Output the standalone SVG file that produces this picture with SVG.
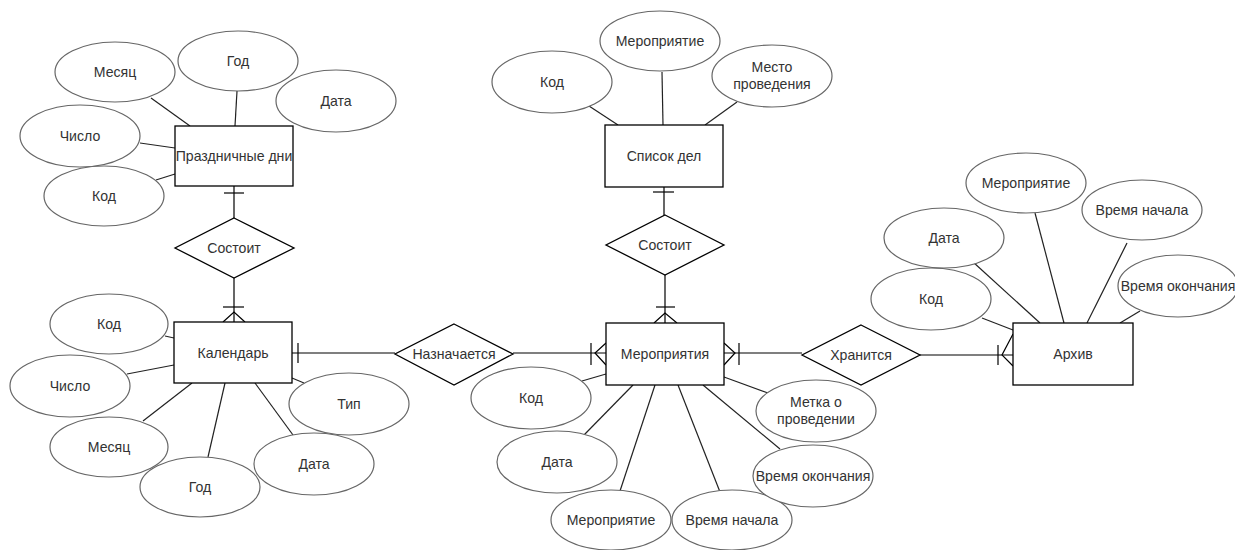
<svg xmlns="http://www.w3.org/2000/svg" width="1235" height="550" viewBox="0 0 1235 550">
<style>
.attr ellipse{fill:#fff;stroke:#666;stroke-width:1.2}
.ent rect{fill:#fff;stroke:#000;stroke-width:1.3}
.rel polygon{fill:#fff;stroke:#000;stroke-width:1.3}
text{font-family:"Liberation Sans",Arial,sans-serif;font-size:14.1px;fill:#333;text-anchor:middle;dominant-baseline:central}
.conn line,.conn polyline{stroke:#000;stroke-width:1.2;fill:none}
.links line{stroke:#222;stroke-width:1.2}
</style>
<rect width="1235" height="550" fill="#fff"/>

<g id="links" class="links">
<line x1="151" y1="98" x2="190" y2="126"/>
<line x1="237" y1="91" x2="235" y2="126"/>
<line x1="140" y1="143" x2="175" y2="148"/>
<line x1="156" y1="180" x2="175" y2="174"/>
<line x1="165" y1="336" x2="174" y2="338"/>
<line x1="127" y1="374" x2="174" y2="365"/>
<line x1="143" y1="421" x2="192" y2="383"/>
<line x1="208" y1="457" x2="225" y2="383"/>
<line x1="293" y1="435" x2="255" y2="383"/>
<line x1="292" y1="378" x2="304" y2="383"/>
<line x1="589" y1="106" x2="618" y2="125"/>
<line x1="662" y1="72" x2="663" y2="125"/>
<line x1="737" y1="102" x2="705" y2="125"/>
<line x1="582" y1="381" x2="606" y2="374"/>
<line x1="584" y1="435" x2="633" y2="385"/>
<line x1="620" y1="491" x2="655" y2="385"/>
<line x1="720" y1="492" x2="678" y2="385"/>
<line x1="780" y1="449" x2="703" y2="385"/>
<line x1="768" y1="393" x2="724" y2="377"/>
<line x1="982" y1="318" x2="1013" y2="330"/>
<line x1="973" y1="262" x2="1040" y2="323"/>
<line x1="1035" y1="213" x2="1064" y2="323"/>
<line x1="1127" y1="243" x2="1087" y2="323"/>
<line x1="1140" y1="311" x2="1120" y2="323"/>
</g>

<g id="connectors" class="conn">
<line x1="234" y1="186" x2="234" y2="218"/>
<line x1="224" y1="193" x2="244" y2="193"/>
<line x1="234" y1="278" x2="234" y2="322"/>
<line x1="223" y1="307" x2="244" y2="307"/>
<polyline points="223,322 234,312 245,322"/>
<line x1="292" y1="353" x2="395" y2="353"/>
<line x1="298" y1="343" x2="298" y2="363"/>
<line x1="513" y1="353" x2="606" y2="353"/>
<line x1="591" y1="343" x2="591" y2="365"/>
<polyline points="606,343 595,353 606,365"/>
<line x1="664" y1="187" x2="664" y2="215"/>
<line x1="653" y1="192" x2="674" y2="192"/>
<line x1="665" y1="275" x2="665" y2="323"/>
<line x1="656" y1="307" x2="675" y2="307"/>
<polyline points="654,323 665,313 677,323"/>
<line x1="724" y1="353" x2="802" y2="353"/>
<line x1="739" y1="343" x2="739" y2="365"/>
<polyline points="724,343 735,353 724,365"/>
<line x1="920" y1="355" x2="1013" y2="355"/>
<line x1="998" y1="345" x2="998" y2="365"/>
<polyline points="1013,334 1002,355 1013,366"/>
</g>

<g id="n-prazd-mesyac" class="attr"><ellipse cx="115" cy="72" rx="60" ry="30"/><text x="115" y="72">Месяц</text></g>
<g id="n-prazd-god" class="attr"><ellipse cx="238" cy="61" rx="60" ry="30"/><text x="238" y="61">Год</text></g>
<g id="n-prazd-data" class="attr"><ellipse cx="336" cy="101" rx="60" ry="31"/><text x="336" y="101">Дата</text></g>
<g id="n-prazd-chislo" class="attr"><ellipse cx="80" cy="136" rx="60" ry="31"/><text x="80" y="136">Число</text></g>
<g id="n-prazd-kod" class="attr"><ellipse cx="104" cy="196" rx="60" ry="30"/><text x="104" y="196">Код</text></g>
<g id="n-prazd" class="ent"><rect x="175" y="126" width="118" height="60"/><text x="234" y="156">Праздничные дни</text></g>

<g id="n-sostoit1" class="rel"><polygon points="234,218 294,248 234,278 175,248"/><text x="234" y="248">Состоит</text></g>

<g id="n-kal" class="ent"><rect x="174" y="322" width="118" height="61"/><text x="233" y="353">Календарь</text></g>
<g id="n-kal-kod" class="attr"><ellipse cx="109" cy="324" rx="59" ry="30"/><text x="109" y="324">Код</text></g>
<g id="n-kal-chislo" class="attr"><ellipse cx="70" cy="386" rx="60" ry="31"/><text x="70" y="386">Число</text></g>
<g id="n-kal-mesyac" class="attr"><ellipse cx="109" cy="447" rx="59" ry="30"/><text x="109" y="447">Месяц</text></g>
<g id="n-kal-god" class="attr"><ellipse cx="200" cy="487" rx="60" ry="30"/><text x="200" y="487">Год</text></g>
<g id="n-kal-data" class="attr"><ellipse cx="314" cy="464" rx="60" ry="31"/><text x="314" y="464">Дата</text></g>
<g id="n-kal-tip" class="attr"><ellipse cx="349" cy="404" rx="60" ry="31"/><text x="349" y="404">Тип</text></g>

<g id="n-naznach" class="rel"><polygon points="454,324 513,354 454,385 395,354"/><text x="454" y="354">Назначается</text></g>

<g id="n-spisok-kod" class="attr"><ellipse cx="552" cy="82" rx="60" ry="31"/><text x="552" y="82">Код</text></g>
<g id="n-spisok-mer" class="attr"><ellipse cx="660" cy="41" rx="60" ry="30"/><text x="660" y="41">Мероприятие</text></g>
<g id="n-spisok-mesto" class="attr"><ellipse cx="772" cy="76" rx="60" ry="31"/><text x="772" y="67">Место</text><text x="772" y="84">проведения</text></g>
<g id="n-spisok" class="ent"><rect x="605" y="125" width="118" height="62"/><text x="664" y="156">Список дел</text></g>

<g id="n-sostoit2" class="rel"><polygon points="665,215 724,245 665,275 606,245"/><text x="665" y="245">Состоит</text></g>

<g id="n-mer" class="ent"><rect x="606" y="323" width="118" height="62"/><text x="665" y="354">Мероприятия</text></g>
<g id="n-mer-kod" class="attr"><ellipse cx="531" cy="398" rx="60" ry="31"/><text x="531" y="398">Код</text></g>
<g id="n-mer-data" class="attr"><ellipse cx="557" cy="462" rx="60" ry="31"/><text x="557" y="462">Дата</text></g>
<g id="n-mer-mer" class="attr"><ellipse cx="611" cy="520" rx="60" ry="30"/><text x="611" y="520">Мероприятие</text></g>
<g id="n-mer-nach" class="attr"><ellipse cx="732" cy="520" rx="60" ry="30"/><text x="732" y="520">Время начала</text></g>
<g id="n-mer-okon" class="attr"><ellipse cx="813" cy="476" rx="60" ry="31"/><text x="813" y="476">Время окончания</text></g>
<g id="n-mer-metka" class="attr"><ellipse cx="816" cy="411" rx="60" ry="31"/><text x="816" y="402">Метка о</text><text x="816" y="419">проведении</text></g>

<g id="n-hranitsya" class="rel"><polygon points="861,325 920,355 861,385 802,355"/><text x="861" y="355">Хранится</text></g>

<g id="n-arhiv" class="ent"><rect x="1013" y="323" width="120" height="62"/><text x="1073" y="354">Архив</text></g>
<g id="n-arh-kod" class="attr"><ellipse cx="931" cy="299" rx="60" ry="31"/><text x="931" y="299">Код</text></g>
<g id="n-arh-data" class="attr"><ellipse cx="944" cy="238" rx="60" ry="30"/><text x="944" y="238">Дата</text></g>
<g id="n-arh-mer" class="attr"><ellipse cx="1026" cy="183" rx="60" ry="30"/><text x="1026" y="183">Мероприятие</text></g>
<g id="n-arh-nach" class="attr"><ellipse cx="1142" cy="210" rx="60" ry="30"/><text x="1142" y="210">Время начала</text></g>
<g id="n-arh-okon" class="attr"><ellipse cx="1178" cy="286" rx="60" ry="31"/><text x="1178" y="286">Время окончания</text></g>
</svg>
